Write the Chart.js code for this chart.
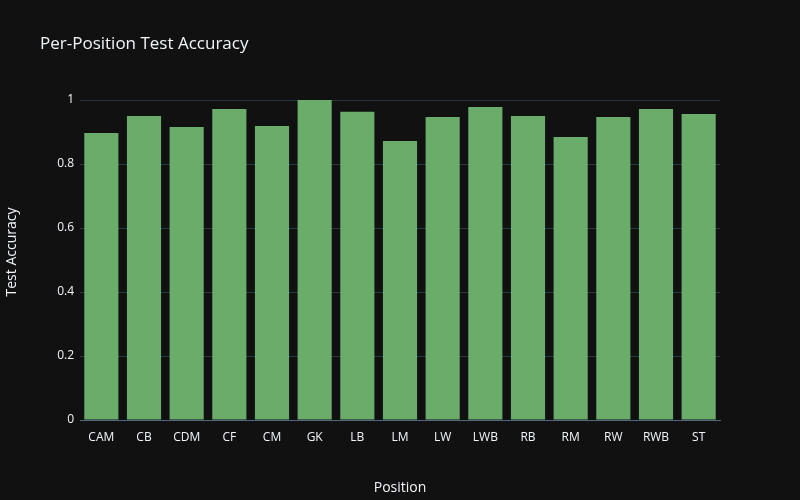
<!DOCTYPE html>
<html><head><meta charset="utf-8">
<script src="https://cdn.jsdelivr.net/npm/chart.js@4"></script>
<style>html,body{margin:0;background:#111111;}canvas{display:block}</style>
</head><body>
<div style="width:800px;height:500px"><canvas id="c"></canvas></div>
<script>
const positions = ["CAM","CB","CDM","CF","CM","GK","LB","LM","LW","LWB","RB","RM","RW","RWB","ST"];
const accuracy = [0.897,0.950,0.916,0.972,0.919,1.0,0.963,0.872,0.947,0.978,0.950,0.884,0.947,0.972,0.956];
const yTicks = [0,0.2,0.4,0.6,0.8,1];
const FONT = "'Open Sans', sans-serif";
const titlePlugin = {
  id:'t',
  afterDraw(ch){const c=ch.ctx;c.save();c.fillStyle='#f2f5fa';c.font="17px "+FONT;c.textBaseline='middle';c.fillText('Per-Position Test Accuracy',40,44);c.restore();}
};
new Chart(document.getElementById('c'),{
  type:'bar',
  data:{labels:positions,datasets:[{data:accuracy,backgroundColor:'#6aac6a',borderWidth:0,barPercentage:0.8,categoryPercentage:1}]},
  plugins:[titlePlugin],
  options:{
    responsive:true,maintainAspectRatio:false,animation:false,
    layout:{padding:{top:84,right:80,left:0,bottom:0}},
    plugins:{legend:{display:false},tooltip:{enabled:false}},
    scales:{
      x:{grid:{display:false},border:{color:'#506784'},
        ticks:{color:'#f2f5fa',font:{family:FONT,size:12},padding:2,maxRotation:0},
        title:{display:true,text:'Position',color:'#f2f5fa',font:{family:FONT,size:14},padding:{top:8}},
        afterFit(s){s.height=80;}},
      y:{min:0,max:1.05,afterBuildTicks(s){s.ticks=yTicks.map(v=>({value:v}));},
        grid:{color:'#283442',drawTicks:false},border:{display:false},
        ticks:{color:'#f2f5fa',font:{family:FONT,size:12},padding:6,callback:v=>String(v)},
        title:{display:true,text:'Test Accuracy',color:'#f2f5fa',font:{family:FONT,size:14},padding:{bottom:14}},
        afterFit(s){s.width=80;}}
    }
  }
});
</script></body></html>
